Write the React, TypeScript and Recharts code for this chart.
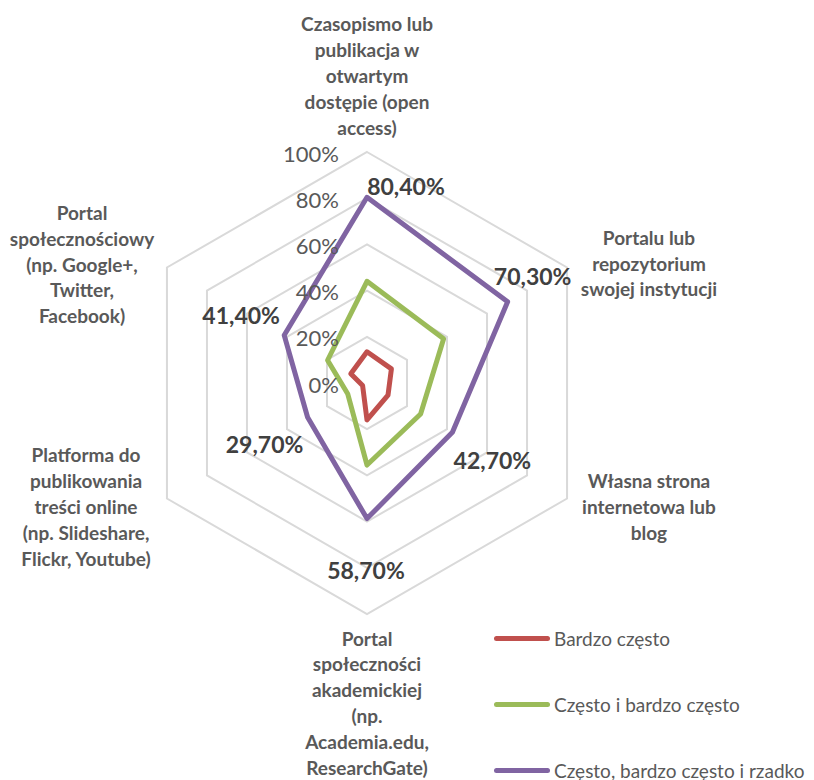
import {
  RadarChart,
  Radar,
  PolarGrid,
  PolarAngleAxis,
  PolarRadiusAxis,
  Legend,
} from 'recharts';

// axis categories (line breaks as in the original chart)
const categories = [
  'Czasopismo lub\npublikacja w\notwartym\ndostępie (open\naccess)',
  'Portalu lub\nrepozytorium\nswojej instytucji',
  'Własna strona\ninternetowa lub\nblog',
  'Portal\nspołeczności\nakademickiej\n(np.\nAcademia.edu,\nResearchGate)',
  'Platforma do\npublikowania\ntreści online\n(np. Slideshare,\nFlickr, Youtube)',
  'Portal\nspołecznościowy\n(np. Google+,\nTwitter,\nFacebook)',
];

const seriesNames = [
  'Bardzo często',
  'Często i bardzo często',
  'Często, bardzo często i rzadko',
];

const bardzoCzesto = [13.5, 12.2, 10.5, 16, 2.2, 8.1];
const czestoIBardzoCzesto = [44, 38.3, 26.8, 35.5, 9.6, 19.7];
const czestoBardzoCzestoIRzadko = [80.4, 70.3, 42.7, 58.7, 29.7, 41.4];

const radiusTicks = [0, 20, 40, 60, 80, 100];

const data = categories.map((name, i) => ({
  name,
  a: bardzoCzesto[i],
  b: czestoIBardzoCzesto[i],
  c: czestoBardzoCzestoIRzadko[i],
}));

const FONT = 'Lato, "Open Sans", sans-serif';
const TEXT = '#595959';
const LINE_H = 25.8;

// where each category block sits relative to its tick point
const catOffsets = [
  [0, -69],
  [75, -1],
  [75, 3.5],
  [0, 80],
  [-74, 3.5],
  [-78, 0],
];

// purple value labels, relative to the vertex
const labelOffsets = [
  [39, -11],
  [25, -26],
  [40, 28],
  [-1, 51],
  [-43, 27],
  [-43, -20],
];

function CategoryTick(props: any) {
  const { x, y, payload, index } = props;
  const lines = String(payload.value).split('\n');
  const [dx, dy] = catOffsets[index] || [0, 0];
  const cx = x + dx;
  const top = y + dy - ((lines.length - 1) * LINE_H) / 2;
  return (
    <text
      x={cx}
      y={top}
      textAnchor="middle"
      dominantBaseline="central"
      fontFamily={FONT}
      fontWeight="bold"
      fontSize={19}
      fill={TEXT}
    >
      {lines.map((l, i) => (
        <tspan key={i} x={cx} y={top + i * LINE_H}>
          {l}
        </tspan>
      ))}
    </text>
  );
}

function RadiusTick(props: any) {
  const { x, y, payload } = props;
  return (
    <text
      x={x - 28}
      y={y + 1}
      textAnchor="end"
      dominantBaseline="central"
      fontFamily={FONT}
      fontSize={22}
      fill={TEXT}
    >
      {payload.value}%
    </text>
  );
}

function ValueLabel(props: any) {
  const { index, value } = props;
  const x = props.x ?? props.viewBox?.x;
  const y = props.y ?? props.viewBox?.y;
  const [dx, dy] = labelOffsets[index] || [0, 0];
  return (
    <text
      x={x + dx}
      y={y + dy}
      textAnchor="middle"
      dominantBaseline="central"
      fontFamily={FONT}
      fontWeight="bold"
      fontSize={23}
      fill="#404040"
    >
      {Number(value).toFixed(2).replace('.', ',')}%
    </text>
  );
}

function LegendContent({ payload }: { payload?: Array<{ color: string; value: string }> }) {
  if (!payload) return null;
  return (
    <div style={{ display: 'flex', flexDirection: 'column', gap: 40 }}>
      {payload.map(({ color, value }) => (
        <div
          key={value}
          style={{ display: 'flex', alignItems: 'center', height: 26, fontFamily: FONT, fontSize: 19, color: TEXT }}
        >
          <div style={{ width: 56, height: 5, borderRadius: 3, background: color, marginRight: 4 }} />
          {value}
        </div>
      ))}
    </div>
  );
}

export default function App() {
  return (
    <div style={{ position: 'absolute', left: 0, top: 0, width: 814, height: 780, background: '#fff' }}>
      <RadarChart
        width={814}
        height={780}
        data={data}
        cx={367}
        cy={383}
        outerRadius={231}
        margin={{ top: 0, right: 0, bottom: 0, left: 0 }}
      >
        <PolarGrid gridType="polygon" radialLines={false} stroke="#D9D9D9" strokeWidth={2} />
        <PolarAngleAxis dataKey="name" tick={<CategoryTick />} tickLine={false} axisLine={false} />
        <PolarRadiusAxis
          angle={90}
          domain={[0, 100]}
          ticks={radiusTicks as any}
          tickCount={6}
          tick={<RadiusTick />}
          axisLine={false}
          tickLine={false}
        />
        <Radar
          name={seriesNames[0]}
          dataKey="a"
          stroke="#C0504D"
          strokeWidth={5}
          fill="none"
          fillOpacity={0}
          strokeLinejoin="round"
          isAnimationActive={false}
        />
        <Radar
          name={seriesNames[1]}
          dataKey="b"
          stroke="#9BBB59"
          strokeWidth={5}
          fill="none"
          fillOpacity={0}
          strokeLinejoin="round"
          isAnimationActive={false}
        />
        <Radar
          name={seriesNames[2]}
          dataKey="c"
          stroke="#8064A2"
          strokeWidth={5}
          fill="none"
          fillOpacity={0}
          strokeLinejoin="round"
          isAnimationActive={false}
          label={<ValueLabel />}
        />
        <Legend
          layout="vertical"
          align="center"
          verticalAlign="middle"
          wrapperStyle={{ left: 494, top: 625, width: 320 }}
          content={({ payload }) => (
            <LegendContent payload={payload as Array<{ color: string; value: string }>} />
          )}
        />
      </RadarChart>
    </div>
  );
}
